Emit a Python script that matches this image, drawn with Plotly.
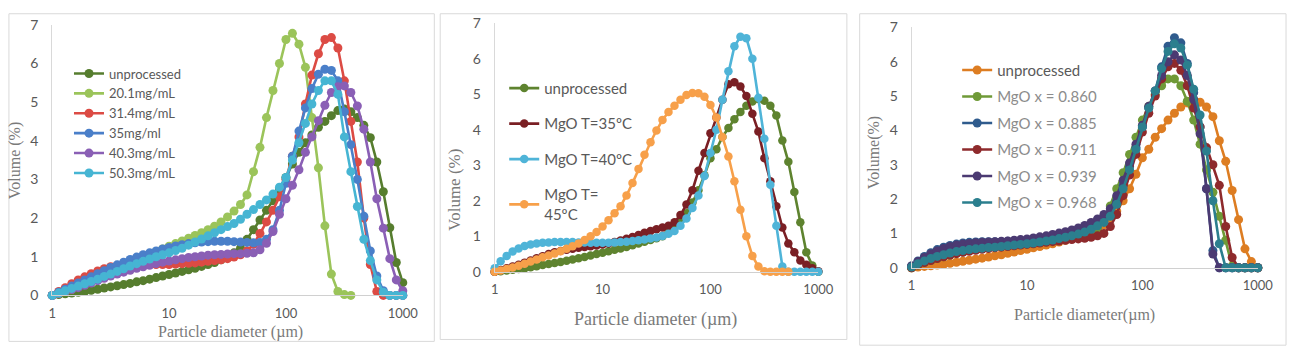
import plotly.graph_objects as go

# Particle diameter grid (µm), log-spaced bins
diameter = [1.000, 1.136, 1.292, 1.468, 1.668, 1.896, 2.154, 2.448, 2.783, 3.162,
            3.594, 4.084, 4.642, 5.275, 5.995, 6.813, 7.743, 8.799,
            10.00, 11.36, 12.92, 14.68, 16.68, 18.96, 21.54, 24.48, 27.83,
            31.62, 35.94, 40.84, 46.42, 52.75, 59.95, 68.13, 77.43, 87.99,
            100.0, 113.6, 129.2, 146.8, 166.8, 189.6, 215.4, 244.8, 278.3,
            316.2, 359.4, 408.4, 464.2, 527.5, 599.5, 681.3, 774.3, 879.9, 1000.0]

# ---------------- Panel 1 ----------------
p1_unprocessed = [0, 0.02, 0.04, 0.06, 0.08, 0.10, 0.13, 0.16, 0.19, 0.22,
                  0.25, 0.28, 0.31, 0.35, 0.38, 0.42, 0.46, 0.50,
                  0.54, 0.58, 0.62, 0.66, 0.70, 0.75, 0.80, 0.85, 0.92,
                  1.00, 1.10, 1.22, 1.45, 1.70, 1.95, 2.20, 2.45, 2.75,
                  3.05, 3.40, 3.70, 3.95, 4.15, 4.35, 4.50, 4.65, 4.78,
                  4.82, 4.75, 4.60, 4.40, 4.08, 3.45, 2.68, 1.75, 0.85, 0.33]
p1_20_1 = [0, 0.05, 0.10, 0.16, 0.22, 0.28, 0.35, 0.42, 0.50, 0.58,
           0.66, 0.74, 0.82, 0.90, 0.98, 1.06, 1.13, 1.20,
           1.27, 1.34, 1.41, 1.48, 1.55, 1.62, 1.70, 1.79, 1.90,
           2.03, 2.18, 2.35, 2.60, 3.20, 3.83, 4.60, 5.30, 6.00,
           6.62, 6.78, 6.50, 5.90, 4.60, 3.30, 1.80, 0.55, 0.10,
           0.02, 0.00, None, None, None, None, None, None, None, None]
p1_31_4 = [0, 0.10, 0.20, 0.30, 0.40, 0.48, 0.56, 0.63, 0.69, 0.74,
           0.77, 0.79, 0.80, 0.80, 0.80, 0.80, 0.80, 0.80,
           0.80, 0.81, 0.82, 0.83, 0.84, 0.86, 0.88, 0.90, 0.92,
           0.95, 0.99, 1.05, 1.15, 1.32, 1.60, 1.90, 2.20, 2.55,
           3.00, 3.60, 4.10, 4.95, 5.70, 6.25, 6.62, 6.67, 6.40,
           5.55, 4.50, 3.45, 2.00, 0.80, 0.10, 0, 0, 0, 0]
p1_35 = [0, 0.08, 0.16, 0.24, 0.32, 0.40, 0.48, 0.56, 0.64, 0.72,
         0.79, 0.86, 0.93, 0.99, 1.05, 1.10, 1.15, 1.20,
         1.24, 1.28, 1.31, 1.34, 1.36, 1.38, 1.39, 1.40, 1.40,
         1.40, 1.39, 1.38, 1.37, 1.36, 1.37, 1.45, 1.70, 2.20,
         2.90, 3.60, 4.25, 4.85, 5.35, 5.72, 5.85, 5.82, 5.55,
         4.75, 3.90, 3.00, 2.05, 1.15, 0.50, 0.12, 0, 0, 0]
p1_40_3 = [0, 0.05, 0.10, 0.15, 0.20, 0.26, 0.32, 0.38, 0.44, 0.50,
           0.55, 0.60, 0.65, 0.70, 0.74, 0.78, 0.82, 0.86,
           0.89, 0.92, 0.95, 0.98, 1.00, 1.02, 1.04, 1.05, 1.06,
           1.07, 1.08, 1.08, 1.09, 1.10, 1.18, 1.35, 1.65, 2.10,
           2.50, 2.85, 3.25, 3.70, 4.10, 4.52, 4.92, 5.25, 5.40,
           5.42, 5.25, 4.90, 4.30, 3.45, 2.50, 1.74, 0.95, 0.40, 0.12]
p1_50_3 = [0, 0.06, 0.12, 0.18, 0.24, 0.30, 0.36, 0.42, 0.49, 0.55,
           0.62, 0.69, 0.76, 0.82, 0.88, 0.94, 1.00, 1.05,
           1.10, 1.16, 1.22, 1.30, 1.38, 1.46, 1.54, 1.62, 1.70,
           1.78, 1.86, 1.97, 2.10, 2.22, 2.35, 2.47, 2.62, 2.80,
           3.05, 3.50, 3.95, 4.45, 4.95, 5.30, 5.55, 5.55, 5.20,
           4.10, 3.20, 2.30, 1.45, 0.90, 0.40, 0.08, 0, 0, 0]

# ---------------- Panel 2 ----------------
unprocessed_b = [0, 0.02, 0.04, 0.06, 0.08, 0.10, 0.13, 0.16, 0.19, 0.22,
                 0.25, 0.28, 0.31, 0.35, 0.38, 0.42, 0.46, 0.50,
                 0.54, 0.58, 0.62, 0.66, 0.70, 0.75, 0.80, 0.85, 0.90,
                 0.95, 1.00, 1.10, 1.25, 1.45, 1.65, 1.95, 2.30, 2.72,
                 3.20, 3.45, 3.80, 4.05, 4.30, 4.50, 4.68, 4.80, 4.87,
                 4.82, 4.68, 4.40, 3.70, 3.10, 2.25, 1.40, 0.55, 0.18, 0]
p2_35 = [0, 0.05, 0.10, 0.15, 0.20, 0.26, 0.32, 0.38, 0.44, 0.50,
         0.55, 0.59, 0.62, 0.65, 0.68, 0.70, 0.72, 0.74,
         0.77, 0.80, 0.84, 0.88, 0.93, 0.98, 1.04, 1.10, 1.15,
         1.20, 1.25, 1.30, 1.40, 1.60, 1.90, 2.30, 2.85, 3.35,
         3.90, 4.35, 4.85, 5.28, 5.34, 5.22, 4.95, 4.45, 3.95,
         3.20, 2.55, 1.85, 1.25, 0.80, 0.55, 0.32, 0.20, 0.10, 0.02]
p2_40 = [0.10, 0.30, 0.45, 0.57, 0.66, 0.73, 0.77, 0.80, 0.82, 0.83,
         0.84, 0.84, 0.84, 0.84, 0.83, 0.83, 0.82, 0.82,
         0.82, 0.82, 0.83, 0.84, 0.85, 0.87, 0.89, 0.91, 0.94,
         0.97, 1.01, 1.07, 1.15, 1.30, 1.50, 1.80, 2.15, 2.70,
         3.35, 4.00, 4.85, 5.65, 6.35, 6.62, 6.58, 6.00, 4.90,
         3.75, 2.45, 1.30, 0.15, 0, 0, 0, 0, 0, 0]
p2_45 = [0, 0.04, 0.08, 0.12, 0.17, 0.23, 0.29, 0.35, 0.41, 0.46,
         0.52, 0.58, 0.65, 0.72, 0.80, 0.90, 1.00, 1.12,
         1.28, 1.45, 1.65, 1.85, 2.15, 2.50, 2.90, 3.30, 3.65,
         3.98, 4.28, 4.50, 4.68, 4.85, 4.98, 5.04, 5.03, 4.93,
         4.70, 4.35, 3.80, 3.25, 2.55, 1.75, 1.00, 0.45, 0.15,
         0.02, 0, 0, 0, 0, None, None, None, None, None]

# ---------------- Panel 3 ----------------
p3_0860 = [0, 0.08, 0.15, 0.21, 0.27, 0.32, 0.37, 0.42, 0.46, 0.50,
           0.53, 0.56, 0.59, 0.61, 0.63, 0.65, 0.67, 0.69,
           0.71, 0.73, 0.75, 0.77, 0.80, 0.83, 0.86, 0.90, 0.95,
           1.00, 1.07, 1.15, 1.35, 1.80, 2.30, 2.77, 3.30, 3.80,
           4.30, 4.70, 5.05, 5.30, 5.50, 5.50, 5.30, 4.85, 4.30,
           3.60, 2.85, 2.20, 1.50, 0.80, 0.05, 0, 0, 0, 0]
p3_0885 = [0.05, 0.20, 0.33, 0.44, 0.53, 0.60, 0.65, 0.69, 0.72, 0.74,
           0.75, 0.76, 0.76, 0.76, 0.76, 0.77, 0.78, 0.79,
           0.80, 0.82, 0.84, 0.87, 0.90, 0.94, 0.98, 1.03, 1.09,
           1.16, 1.25, 1.35, 1.40, 1.60, 1.95, 2.40, 2.95, 3.50,
           4.10, 4.65, 5.15, 5.85, 6.45, 6.70, 6.55, 5.95, 5.10,
           4.10, 2.30, 0.50, 0, 0, 0, 0, 0, 0, 0]
p3_0911 = [0, 0.08, 0.15, 0.21, 0.27, 0.32, 0.37, 0.41, 0.45, 0.48,
           0.51, 0.54, 0.56, 0.58, 0.60, 0.62, 0.64, 0.66,
           0.68, 0.70, 0.72, 0.74, 0.76, 0.78, 0.80, 0.82, 0.84,
           0.86, 0.89, 0.93, 1.00, 1.20, 1.55, 2.10, 2.70, 3.30,
           3.95, 4.50, 5.00, 5.50, 5.85, 5.95, 5.75, 5.30, 4.65,
           4.10, 3.50, 3.00, 2.40, 1.20, 0.30, 0, 0, 0, 0]
p3_0939 = [0.05, 0.18, 0.30, 0.40, 0.49, 0.56, 0.62, 0.66, 0.69, 0.71,
           0.73, 0.74, 0.75, 0.76, 0.77, 0.78, 0.80, 0.82,
           0.84, 0.87, 0.90, 0.93, 0.97, 1.01, 1.05, 1.10, 1.16,
           1.23, 1.32, 1.42, 1.55, 1.72, 2.10, 2.55, 3.05, 3.60,
           4.15, 4.70, 5.15, 5.60, 6.00, 6.20, 6.05, 5.60, 4.90,
           3.90, 2.30, 0.40, 0, 0, 0, 0, 0, 0, 0]
p3_0968 = [0.02, 0.12, 0.20, 0.27, 0.33, 0.38, 0.43, 0.47, 0.50, 0.53,
           0.55, 0.57, 0.59, 0.60, 0.62, 0.64, 0.66, 0.68,
           0.70, 0.72, 0.75, 0.78, 0.81, 0.85, 0.89, 0.93, 0.98,
           1.04, 1.12, 1.22, 1.32, 1.50, 1.85, 2.30, 2.85, 3.45,
           4.10, 4.65, 5.15, 5.80, 6.30, 6.52, 6.40, 5.90, 5.20,
           4.45, 3.40, 1.95, 0.70, 0, 0, 0, 0, 0, 0]

W, H = 1305, 357
FONT = "Lato, 'Open Sans', sans-serif"
SERIF = "'Liberation Serif', 'DejaVu Serif', serif"
TICK_COLOR = "#595959"

fig = go.Figure()

def add(values, name, color, axis, legend, group, msize=9, lw=2.6):
    fig.add_trace(go.Scatter(
        x=diameter, y=values, name=name, mode="lines+markers",
        line=dict(color=color, width=lw),
        marker=dict(color=color, size=msize, line=dict(width=0)),
        xaxis="x" + axis if axis != "1" else "x",
        yaxis="y" + axis if axis != "1" else "y",
        legend=legend, legendgroup=group, cliponaxis=False,
        connectgaps=False, showlegend=True,
    ))

# Panel 1
add(p1_unprocessed, "unprocessed", "#567d2e", "1", "legend", "a1")
add(p1_20_1, "20.1mg/mL", "#9bc45a", "1", "legend", "a2")
add(p1_31_4, "31.4mg/mL", "#dc4b44", "1", "legend", "a3")
add(p1_35, "35mg/ml", "#4a7fc9", "1", "legend", "a4")
add(p1_40_3, "40.3mg/mL", "#8a5fb5", "1", "legend", "a5")
add(p1_50_3, "50.3mg/mL", "#46b5d3", "1", "legend", "a6")

# Panel 2
add(unprocessed_b, "unprocessed", "#5e832f", "2", "legend2", "b1", msize=8.5)
add(p2_35, "MgO T=35ºC", "#7a1f24", "2", "legend2", "b2", msize=8.5)
add(p2_40, "MgO T=40ºC", "#4fb4d8", "2", "legend2", "b3", msize=8.5)
add(p2_45, "MgO T=<br>45ºC", "#f7a04a", "2", "legend2", "b4", msize=8.5)

# Panel 3
GRAY = "#8c8c8c"
add(unprocessed_b, "unprocessed", "#dd7d22", "3", "legend3", "c1")
add(p3_0860, f"<span style='color:{GRAY}'>MgO x = 0.860</span>", "#6f9a37", "3", "legend3", "c2")
add(p3_0885, f"<span style='color:{GRAY}'>MgO x = 0.885</span>", "#2f5b8d", "3", "legend3", "c3")
add(p3_0911, f"<span style='color:{GRAY}'>MgO x = 0.911</span>", "#8e2a2c", "3", "legend3", "c4")
add(p3_0939, f"<span style='color:{GRAY}'>MgO x = 0.939</span>", "#4b3a72", "3", "legend3", "c5")
add(p3_0968, f"<span style='color:{GRAY}'>MgO x = 0.968</span>", "#2b7f8e", "3", "legend3", "c6")

def px_x(v):
    return v / W

def px_y(v):
    return 1 - v / H

panels = {
    "1": dict(x=(49, 405), y=(16.6, 300.7)),
    "2": dict(x=(498.3, 827), y=(15, 276)),
    "3": dict(x=(921.7, 1273.3), y=(19.3, 271.7)),
}

layout_axes = {}
for k, p in panels.items():
    xa = "xaxis" if k == "1" else "xaxis" + k
    ya = "yaxis" if k == "1" else "yaxis" + k
    anchor_x = "y" if k == "1" else "y" + k
    anchor_y = "x" if k == "1" else "x" + k
    layout_axes[xa] = dict(
        type="log", range=[0, 3], domain=[px_x(p["x"][0]), px_x(p["x"][1])],
        anchor=anchor_x, showgrid=False, zeroline=False,
        showline=True, linecolor="#d0d0d0", linewidth=1,
        tickvals=[1, 10, 100, 1000], ticktext=["1", "10", "100", "1000"],
        ticks="", tickfont=dict(family=FONT, size=13, color=TICK_COLOR),
        ticklabelstandoff=6,
    )
    layout_axes[ya] = dict(
        range=[0, 7], domain=[px_y(p["y"][1]), px_y(p["y"][0])],
        anchor=anchor_y, showgrid=False, zeroline=False,
        showline=True, linecolor="#d9d9d9", linewidth=1,
        dtick=1, tick0=0, ticks="",
        tickfont=dict(family=FONT, size=14, color=TICK_COLOR),
        ticklabelstandoff=10,
    )

frames = [(5, 5, 437, 349), (443, 5, 856, 347), (869, 5, 1302, 353)]
shapes = []
for (x0, y0, x1, y1) in frames:
    shapes.append(dict(type="rect", xref="paper", yref="paper",
                       x0=px_x(x0), x1=px_x(x1), y0=px_y(y1), y1=px_y(y0),
                       line=dict(color="#d9d9d9", width=1), layer="below"))

TITLE_COLOR = "#7a7a7a"
annotations = [
    dict(text="Particle diameter (µm)", x=px_x(230), y=px_y(339), size=16),
    dict(text="Particle diameter (µm)", x=px_x(662), y=px_y(326), size=18),
    dict(text="Particle diameter(µm)", x=px_x(1097), y=px_y(321), size=16),
]
ann = []
for a in annotations:
    ann.append(dict(text=a["text"], x=a["x"], y=a["y"], xref="paper", yref="paper",
                    showarrow=False, xanchor="center", yanchor="middle",
                    font=dict(family=SERIF, size=a["size"], color=TITLE_COLOR)))
for (xp, yp, txt, sz) in [(12, 159, "Volume (%)", 16), (458, 190, "Volume (%)", 17),
                          (883, 151, "Volume(%)", 16)]:
    ann.append(dict(text=txt, x=px_x(xp), y=px_y(yp), xref="paper", yref="paper",
                    showarrow=False, textangle=-90, xanchor="center", yanchor="middle",
                    font=dict(family=SERIF, size=sz, color=TITLE_COLOR)))

legend_common = dict(bgcolor="rgba(0,0,0,0)", borderwidth=0, xanchor="left",
                     yanchor="top", xref="paper", yref="paper", itemwidth=30,
                     traceorder="grouped")

fig.update_layout(
    width=W, height=H,
    margin=dict(l=0, r=0, t=0, b=0),
    paper_bgcolor="white", plot_bgcolor="white",
    shapes=shapes, annotations=ann,
    legend=dict(x=px_x(66), y=px_y(52), font=dict(family=FONT, size=13, color="#595959"),
                tracegroupgap=0, **legend_common),
    legend2=dict(x=px_x(508), y=px_y(66), font=dict(family=FONT, size=15, color="#595959"),
                 tracegroupgap=13, **legend_common),
    legend3=dict(x=px_x(968), y=px_y(47), font=dict(family=FONT, size=15, color="#595959"),
                 tracegroupgap=4, **legend_common),
    **layout_axes,
)

fig.write_html("out.html")
